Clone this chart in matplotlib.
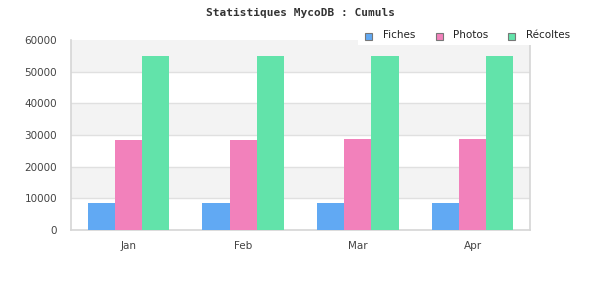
import matplotlib
matplotlib.use("Agg")
import matplotlib.pyplot as plt
import numpy as np
from matplotlib.patches import Rectangle

months = ["Jan", "Feb", "Mar", "Apr"]
fiches = [8600, 8600, 8600, 8600]
photos = [28500, 28500, 28800, 28800]
recoltes = [55000, 55000, 55000, 55000]
series_names = ["Fiches", "Photos", "Récoltes"]
colors = ["#61a9f3", "#f281bb", "#62e3aa"]
yticks = [0, 10000, 20000, 30000, 40000, 50000, 60000]

W, H = 600, 300
fig = plt.figure(figsize=(6, 3), dpi=100)
ax = fig.add_axes([71/W, 70/H, 459/W, 190/H])

x = np.arange(len(months))
w = 0.237
for i, (vals, c) in enumerate(zip([fiches, photos, recoltes], colors)):
    ax.bar(x + (i - 1) * w, vals, width=w, color=c, zorder=3, linewidth=0)

ax.set_xlim(-0.5, len(months) - 0.5)
ax.set_ylim(0, 60000)
for k in range(len(yticks) - 1):
    if k % 2 == 1:
        ax.axhspan(yticks[k], yticks[k + 1], color="#f3f3f3", zorder=0, linewidth=0)
for t in yticks[1:-1]:
    ax.axhline(t, color="#e0e0e0", linewidth=1, zorder=1)

ax.set_yticks(yticks)
ax.set_yticklabels([str(t) for t in yticks])
ax.set_xticks(x)
ax.set_xticklabels(months)
ax.tick_params(axis="both", length=0, labelsize=7.5, colors="#444444")
ax.tick_params(axis="x", pad=8)
ax.tick_params(axis="y", pad=10)
for s in ["left", "bottom", "right"]:
    ax.spines[s].set_color("#d6d6d6")
    ax.spines[s].set_linewidth(1.2)
ax.spines["top"].set_visible(False)

fig.text(0.5, 1 - 13/H, "Statistiques MycoDB : Cumuls", ha="center", va="center",
         fontsize=8, fontweight="bold", family="DejaVu Sans Mono", color="#333333")

# legend (drawn manually in figure pixel coordinates)
def px(xp, yp):
    return xp / W, 1 - yp / H

bx, by = px(358, 45.5)
fig.patches.append(Rectangle((bx, by), (600 - 358) / W, 23.5 / H, transform=fig.transFigure,
                             facecolor="white", edgecolor="none", zorder=5))
sq_x = [365, 435.5, 508]
tx_x = [383, 453, 526]
for sx, tx, name, c in zip(sq_x, tx_x, series_names, colors):
    rx, ry = px(sx, 39.5)
    fig.patches.append(Rectangle((rx, ry), 7 / W, 7 / H, transform=fig.transFigure,
                                 facecolor=c, edgecolor="#777777", linewidth=0.8, zorder=6))
    tx0, ty0 = px(tx, 35.5)
    fig.text(tx0, ty0, name, ha="left", va="center", fontsize=7.5, color="#222222",
             family="DejaVu Sans", zorder=7)

fig.savefig("out.png", dpi=100)
